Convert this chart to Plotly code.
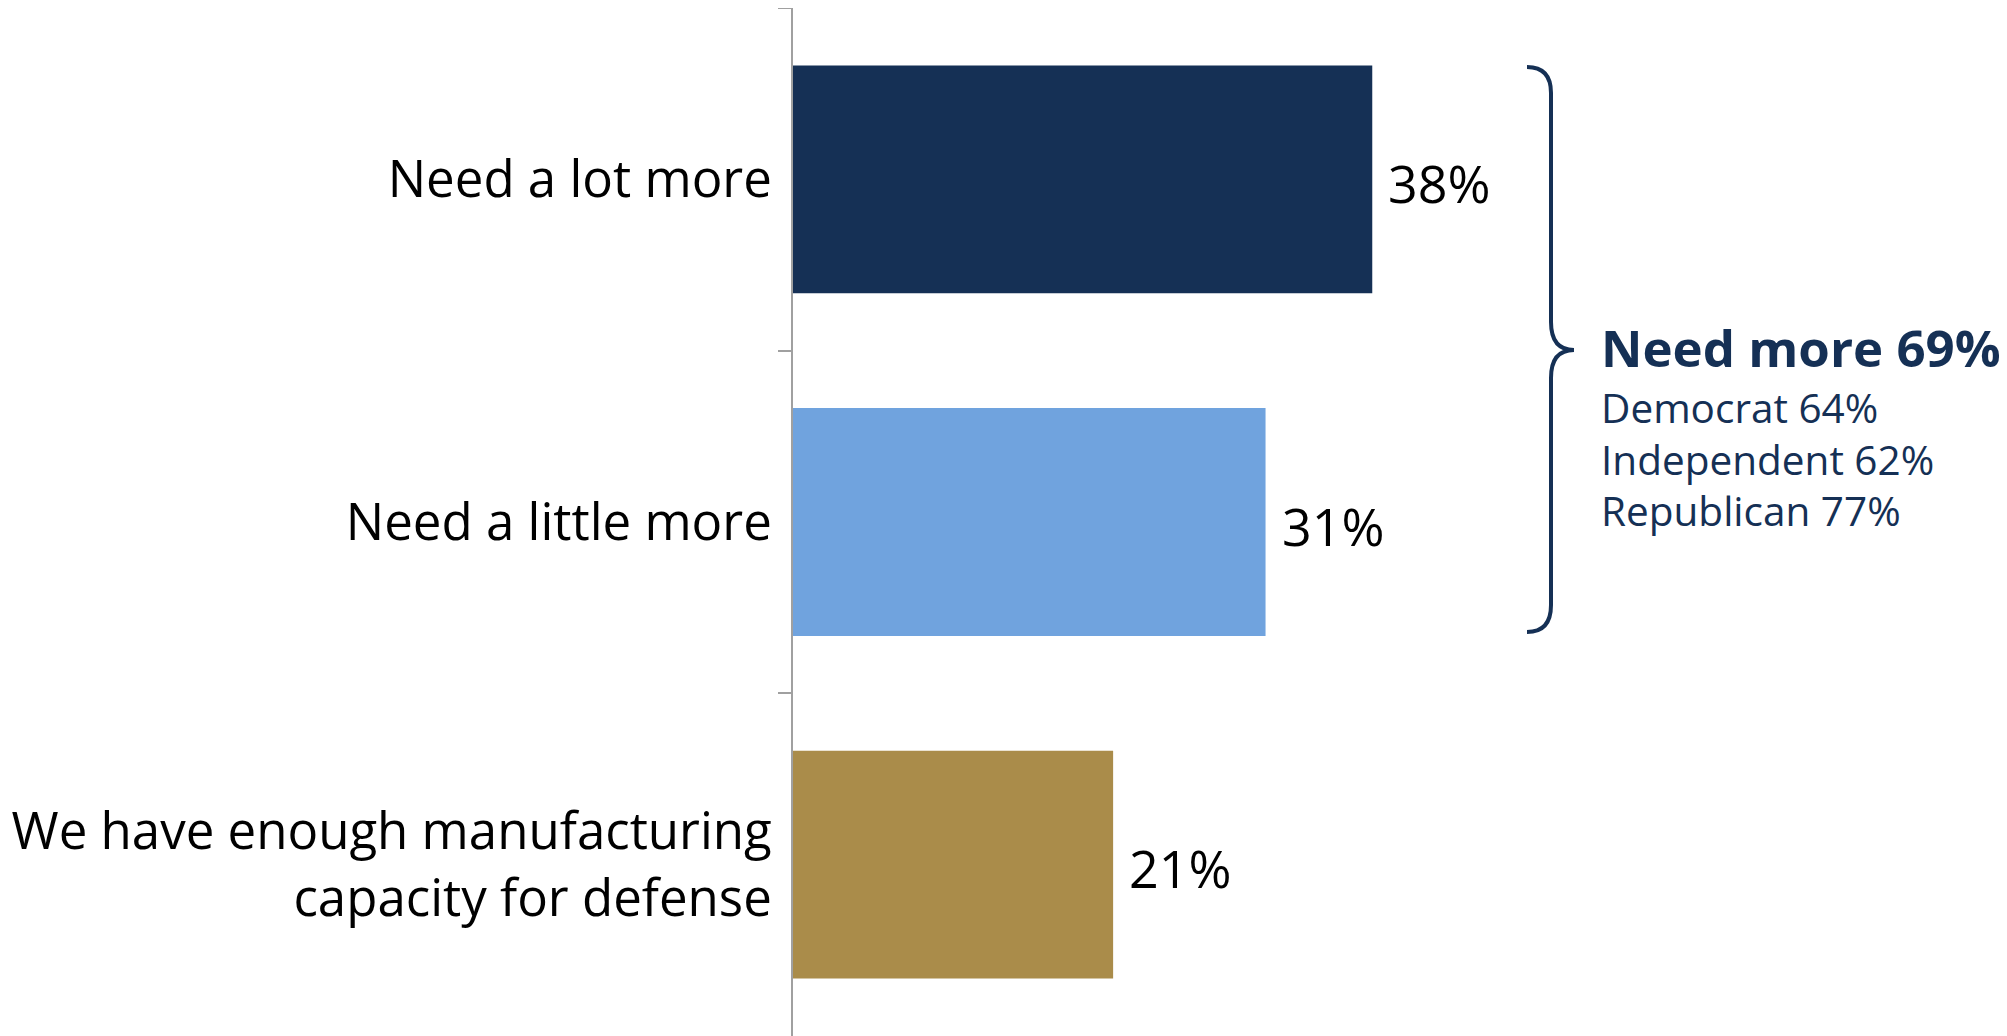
import plotly.graph_objects as go

categories = ["Need a lot more", "Need a little more", "We have enough manufacturing<br>capacity for defense"]
values = [38, 31, 21]
bar_colors = ["#153055", "#70A3DE", "#AA8C4A"]
value_labels = ["38%", "31%", "21%"]
brace_title = "Need more 69%"
brace_lines = ["Democrat 64%", "Independent 62%", "Republican 77%"]

OFF = 8  # page body margin
W, H = 1999, 1028
ML, MT, MB = 785, 0, 0
XMAX = 78
PW = round(XMAX * 15.24)
MR = W - ML - PW
PH = H - MT - MB

def px(x):  # page pixel -> paper
    return (x - OFF - ML) / PW

def py(y):
    return (H - MB - (y - OFF)) / PH

FONT = "Open Sans"
NAVY = "#153055"

fig = go.Figure()
fig.add_trace(go.Bar(
    x=values, y=categories, orientation="h",
    marker=dict(color=bar_colors, line=dict(width=0)),
    width=0.665, hoverinfo="skip",
))

for v, c, t in zip(values, categories, value_labels):
    fig.add_annotation(x=v, y=c, xref="x", yref="y", text=t, showarrow=False,
                       xanchor="left", yanchor="middle", xshift=14, yshift=-3,
                       font=dict(family=FONT, size=52, color="#000000"))

# brace
pts = [(1527, 67), (1551, 67), (1551, 93), (1551, 322), (1551, 350), (1574, 350),
       (1551, 350), (1551, 378), (1551, 605), (1551, 632), (1527, 632)]
P = [(px(a), py(b)) for a, b in pts]
path = (f"M {P[0][0]},{P[0][1]} Q {P[1][0]},{P[1][1]} {P[2][0]},{P[2][1]} "
        f"L {P[3][0]},{P[3][1]} Q {P[4][0]},{P[4][1]} {P[5][0]},{P[5][1]} "
        f"Q {P[6][0]},{P[6][1]} {P[7][0]},{P[7][1]} "
        f"L {P[8][0]},{P[8][1]} Q {P[9][0]},{P[9][1]} {P[10][0]},{P[10][1]}")
fig.add_shape(type="path", path=path, xref="paper", yref="paper",
              line=dict(color=NAVY, width=4))

fig.add_annotation(x=px(1599), y=py(347), xref="paper", yref="paper",
                   text="<b>" + brace_title + "</b>", showarrow=False,
                   xanchor="left", yanchor="middle",
                   font=dict(family=FONT, size=51, color=NAVY))
for i, line in enumerate(brace_lines):
    fig.add_annotation(x=px(1599), y=py(408 + i * 51), xref="paper", yref="paper",
                       text=line, showarrow=False, xanchor="left", yanchor="middle",
                       font=dict(family=FONT, size=40.5, color=NAVY))

fig.update_layout(
    width=W, height=H,
    margin=dict(l=ML, r=MR, t=MT, b=MB, pad=0),
    plot_bgcolor="white", paper_bgcolor="white",
    showlegend=False,
    xaxis=dict(range=[0, XMAX], visible=False, fixedrange=True),
    yaxis=dict(categoryorder="array", categoryarray=categories,
               range=[2.5, -0.5], tickson="boundaries",
               ticks="outside", ticklen=13, tickwidth=2, tickcolor="#A0A0A0",
               showline=True, linecolor="#A0A0A0", linewidth=2,
               showgrid=False, zeroline=False,
               ticklabelstandoff=9,
               tickfont=dict(family=FONT, size=51, color="#000000")),
    font=dict(family=FONT),
)

fig.write_html("out.html")
